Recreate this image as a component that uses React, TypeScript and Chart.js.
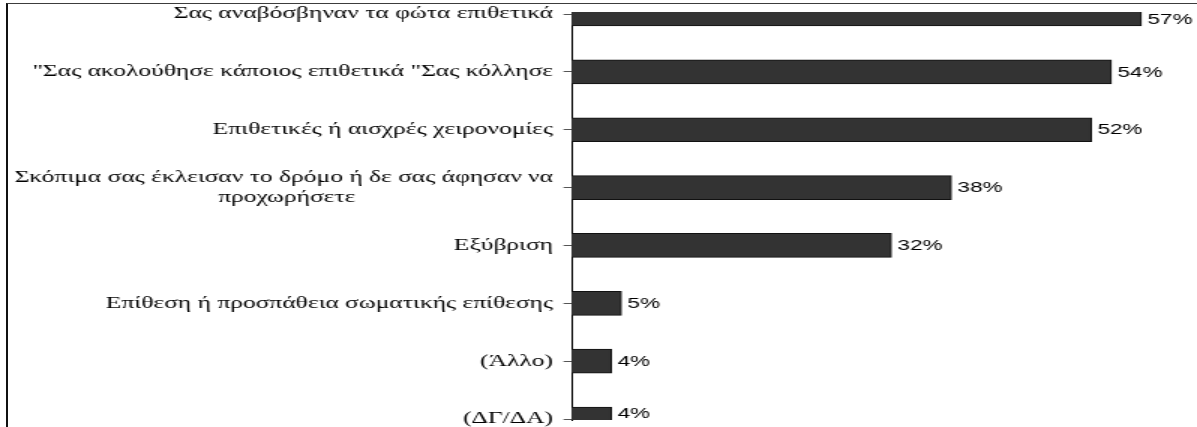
import React, { useEffect, useRef } from "react";
import { Chart, registerables } from "chart.js";

Chart.register(...registerables);

// ---- data ----
const categories: string[] = [
  "Σας αναβόσβηναν τα φώτα επιθετικά",
  "\"Σας ακολούθησε κάποιος επιθετικά \"Σας κόλλησε",
  "Επιθετικές ή αισχρές χειρονομίες",
  "Σκόπιμα σας έκλεισαν το δρόμο ή δε σας άφησαν να|προχωρήσετε",
  "Εξύβριση",
  "Επίθεση ή προσπάθεια σωματικής επίθεσης",
  "(Άλλο)",
  "(ΔΓ/ΔΑ)",
];
const values: number[] = [57, 54, 52, 38, 32, 5, 4, 4];
const valueSuffix = "%";
const xMax = 60;
// index-axis range (category 0 at top, picture clips first and last bar)
const yMin = -0.035;
const yMax = 7.017;

// ---- layout / style ----
const STRETCH = 1.5; // the reference is horizontally stretched
const CANVAS_W = 798;
const CANVAS_H = 472;
const AXIS_W = 381;
const LABEL_FAMILY = "'Liberation Serif', 'Times New Roman', serif";
const LABEL_SIZE = 17;
const VALUE_FONT = "15px 'Liberation Sans', Arial, sans-serif";

function buildTickLabels(): (string | string[])[] {
  const c = document.createElement("canvas").getContext("2d")!;
  c.font = `${LABEL_SIZE}px ${LABEL_FAMILY}`;
  return categories.map((cat) => {
    const lines = cat.split("|");
    if (lines.length === 1) return lines[0];
    const w1 = c.measureText(lines[0]).width;
    return lines.map((ln, i) => {
      if (i === 0) return ln;
      const w = c.measureText(ln).width;
      const sp = c.measureText(" ").width;
      const n = Math.max(0, Math.round((w1 - w) / 2 / sp));
      return ln + " ".repeat(n);
    });
  });
}

const valueLabels = {
  id: "valueLabels",
  afterDatasetsDraw(chart: any) {
    const { ctx, chartArea } = chart;
    const meta = chart.getDatasetMeta(0);
    ctx.save();
    ctx.font = VALUE_FONT;
    ctx.fillStyle = "#000";
    ctx.textAlign = "left";
    ctx.textBaseline = "middle";
    meta.data.forEach((bar: any, i: number) => {
      const { x, y, height } = bar.getProps(["x", "y", "height"], true);
      const top = Math.max(y - height / 2, chartArea.top);
      const bottom = Math.min(y + height / 2, chartArea.bottom);
      ctx.fillText(`${values[i]}${valueSuffix}`, x + 4, (top + bottom) / 2 + 0.5);
    });
    ctx.restore();
  },
};

export default function App() {
  const ref = useRef<HTMLCanvasElement | null>(null);

  useEffect(() => {
    if (!ref.current) return;
    const tickLabels = buildTickLabels();
    const chart = new Chart(ref.current, {
      type: "bar",
      data: {
        datasets: [
          {
            data: values.map((v, i) => ({ x: v, y: i })),
            backgroundColor: "#333333",
            borderColor: "#111111",
            borderWidth: 1,
            barThickness: 24,
          } as any,
        ],
      },
      options: {
        indexAxis: "y",
        responsive: false,
        animation: false,
        devicePixelRatio: 1,
        layout: { padding: { top: 32, bottom: 32, left: 0, right: 17 } },
        plugins: {
          legend: { display: false },
          tooltip: { enabled: false },
        },
        scales: {
          x: { type: "linear", display: false, min: 0, max: xMax, offset: false },
          y: {
            type: "linear",
            reverse: true,
            offset: false,
            min: yMin,
            max: yMax,
            afterFit: (s: any) => {
              s.width = AXIS_W;
            },
            ticks: {
              stepSize: 1,
              includeBounds: false,
              autoSkip: false,
              padding: 7,
              color: "#000",
              font: { family: LABEL_FAMILY, size: LABEL_SIZE },
              callback: (v: any) =>
                Number.isInteger(v) && tickLabels[v] !== undefined ? tickLabels[v] : "",
            },
            grid: {
              display: true,
              offset: false,
              drawOnChartArea: false,
              drawTicks: true,
              tickLength: 5.3,
              color: "#555",
              lineWidth: 1,
            },
            border: { display: true, color: "#000", width: 1 },
          } as any,
        },
      },
      plugins: [valueLabels],
    });
    return () => chart.destroy();
  }, []);

  return (
    <div
      style={{
        position: "absolute",
        left: 0,
        top: 0,
        width: 1197,
        height: 427,
        overflow: "hidden",
        background: "#fff",
      }}
    >
      <div
        style={{
          position: "absolute",
          left: 6,
          top: 3,
          width: 1300,
          height: 500,
          borderTop: "1px solid #3c3c3c",
          borderLeft: "2px solid #111",
          boxSizing: "border-box",
        }}
      />
      <div
        style={{
          position: "absolute",
          left: 0,
          top: -20,
          width: CANVAS_W,
          height: CANVAS_H,
          transform: `scaleX(${STRETCH})`,
          transformOrigin: "0 0",
        }}
      >
        <canvas ref={ref} width={CANVAS_W} height={CANVAS_H} style={{ display: "block" }} />
      </div>
    </div>
  );
}
